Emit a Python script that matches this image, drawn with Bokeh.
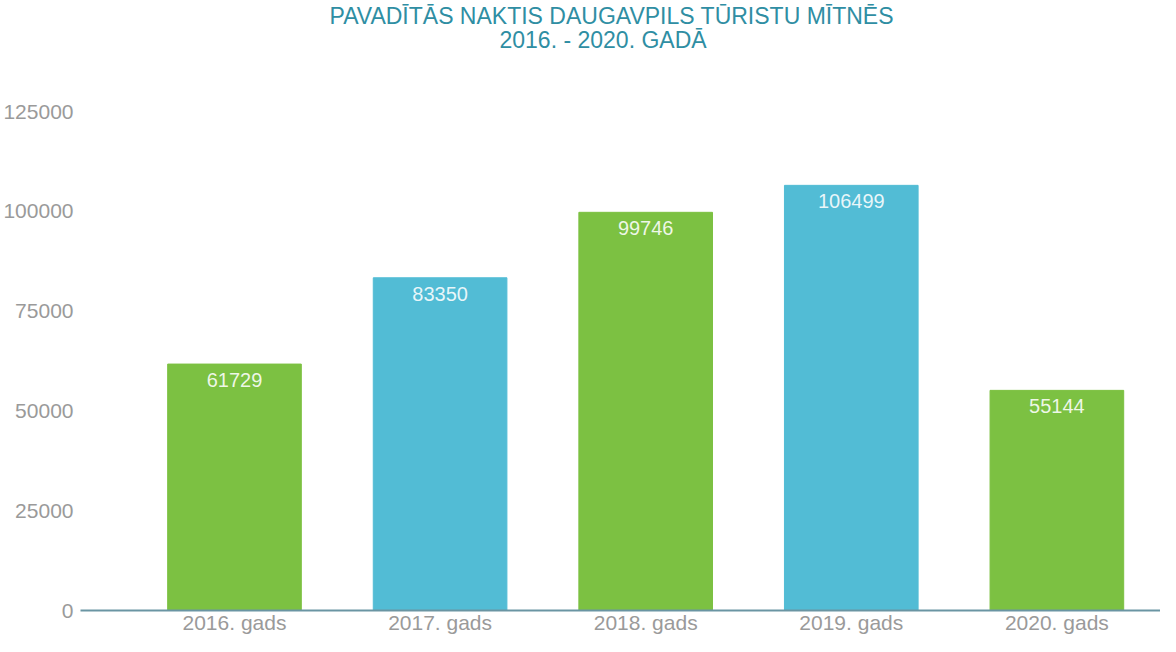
from bokeh.plotting import figure
from bokeh.models import Range1d, FixedTicker, Title, ColumnDataSource
from bokeh.core.properties import value
from bokeh.embed import file_html
from bokeh.resources import INLINE

years = ["2016. gads", "2017. gads", "2018. gads", "2019. gads", "2020. gads"]
nights = [61729, 83350, 99746, 106499, 55144]
bar_colors = ["#7cc142", "#52bcd5", "#7cc142", "#52bcd5", "#7cc142"]
y_ticks = [0, 25000, 50000, 75000, 100000, 125000]
title_lines = ["PAVADĪTĀS NAKTIS DAUGAVPILS TŪRISTU MĪTNĒS", "2016. - 2020. GADĀ"]

idx = list(range(len(years)))
src = ColumnDataSource(dict(x=idx, top=nights, color=bar_colors,
                            label=[str(v) for v in nights]))

p = figure(width=1160, height=636, output_backend="svg", toolbar_location=None,
           x_range=Range1d(-0.749, 4.504), y_range=Range1d(0, 125000),
           min_border_left=80, min_border_right=0, min_border_top=111,
           min_border_bottom=10, background_fill_color="white",
           border_fill_color="white", title=None)
p.outline_line_color = None
p.xgrid.visible = False
p.ygrid.visible = False

p.vbar(x="x", top="top", width=0.65, color="color", source=src)
p.text(x="x", y="top", text="label", source=src, text_align="center",
       text_baseline="top", y_offset=9, text_color="white", text_alpha=0.88,
       text_font=value("Liberation Sans"), text_font_size="20px")

fnt = "Liberation Sans"
xa = p.xaxis[0]
xa.ticker = FixedTicker(ticks=idx)
xa.major_label_overrides = {i: y for i, y in zip(idx, years)}
xa.major_tick_line_color = None
xa.major_tick_out = 0
xa.major_tick_in = 0
xa.minor_tick_line_color = None
xa.minor_tick_out = 0
xa.axis_line_color = "#6a95a3"
xa.axis_line_width = 2
xa.major_label_text_color = "#9a9a9a"
xa.major_label_text_font = fnt
xa.major_label_text_font_size = "21px"
xa.major_label_standoff = 0

ya = p.yaxis[0]
ya.ticker = FixedTicker(ticks=y_ticks)
ya.major_label_overrides = {t: str(t) for t in y_ticks}
ya.axis_line_color = None
ya.major_tick_line_color = None
ya.major_tick_out = 0
ya.major_tick_in = 0
ya.minor_tick_line_color = None
ya.minor_tick_out = 0
ya.major_label_text_color = "#9a9a9a"
ya.major_label_text_font = fnt
ya.major_label_text_font_size = "21px"
ya.major_label_standoff = 7

title_color = "#2f8ea3"
spacer = Title(text=" ", text_font_size="10px", standoff=46)
t2 = Title(text=title_lines[1], align="left", offset=419, text_color=title_color,
           text_font=fnt, text_font_size="23px", text_font_style="normal",
           standoff=0)
t1 = Title(text=title_lines[0], align="left", offset=249, text_color=title_color,
           text_font=fnt, text_font_size="23px", text_font_style="normal",
           standoff=-8)
p.add_layout(spacer, "above")
p.add_layout(t2, "above")
p.add_layout(t1, "above")

open("out.html", "w").write(file_html(p, INLINE))
